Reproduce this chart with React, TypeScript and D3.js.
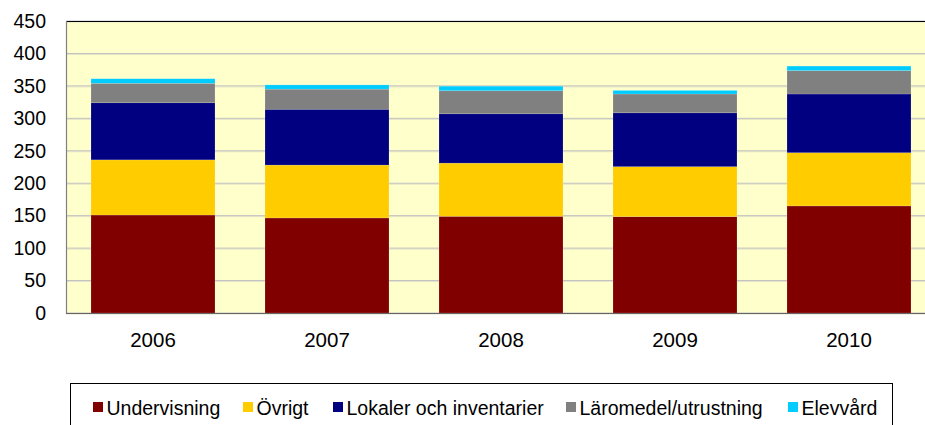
import React from "react";
import * as d3 from "d3";

const years = ["2006", "2007", "2008", "2009", "2010"];
const undervisning = [151, 146.5, 149, 148.5, 165];
const ovrigt = [85, 81.5, 82, 77, 82];
const lokaler = [88, 86, 76, 83, 90.5];
const laromedel = [30, 31, 35.5, 29, 36];
const elevvard = [7, 6.5, 7, 5.5, 7];
const seriesNames = ["Undervisning", "Övrigt", "Lokaler och inventarier", "Läromedel/utrustning", "Elevvård"];
const seriesColors = ["#800000", "#FFCC00", "#000080", "#808080", "#00CCFF"];
const yTicks = [0, 50, 100, 150, 200, 250, 300, 350, 400, 450];

const W = 925;
const H = 425;
const plot = { left: 66, top: 21, right: 936, bottom: 313 };
const legendX = [93, 243, 333, 566, 788];

export default function App() {
  const seriesValues = [undervisning, ovrigt, lokaler, laromedel, elevvard];
  const rows = years.map((y, i) => {
    const r: any = { year: y };
    seriesNames.forEach((n, k) => (r[n] = seriesValues[k][i]));
    return r;
  });
  const stack = d3.stack<any>().keys(seriesNames)(rows);
  const x = d3
    .scaleBand<string>()
    .domain(years)
    .range([plot.left, plot.right])
    .paddingInner(0.2874)
    .paddingOuter(0.1437);
  const y = d3.scaleLinear().domain([0, 450]).range([plot.bottom, plot.top]);
  const font = "Arial, 'Liberation Sans', sans-serif";

  return (
    <svg
      width={W}
      height={H}
      style={{ position: "absolute", left: 0, top: 0, display: "block", background: "#fff" }}
    >
      <rect x={plot.left} y={plot.top} width={plot.right - plot.left} height={plot.bottom - plot.top} fill="#FFFFCC" />
      {yTicks.map((t) => (
        <g key={t}>
          <line x1={plot.left} x2={plot.right} y1={y(t) + 1} y2={y(t) + 1} stroke="#e4e4c8" strokeWidth={1} />
          <line x1={plot.left} x2={plot.right} y1={y(t)} y2={y(t)} stroke="#c0c0c0" strokeWidth={1} />
          <text x={46} y={y(t)} dy="0.35em" textAnchor="end" fontFamily={font} fontSize={19.5} fill="#000">
            {t}
          </text>
        </g>
      ))}
      {stack.map((s, k) => (
        <g key={s.key} fill={seriesColors[k]}>
          {s.map((d, i) => (
            <rect
              key={i}
              x={x(years[i])!}
              y={y(d[1])}
              width={x.bandwidth()}
              height={y(d[0]) - y(d[1])}
              stroke="rgba(255,255,255,0.25)"
              strokeWidth={0.6}
            />
          ))}
        </g>
      ))}
      <line x1={plot.left} x2={plot.right} y1={plot.top + 0.5} y2={plot.top + 0.5} stroke="#000" strokeWidth={1.2} />
      <line x1={plot.left + 0.5} x2={plot.left + 0.5} y1={plot.top} y2={plot.bottom} stroke="#808080" strokeWidth={1.2} />
      <line x1={plot.left} x2={plot.right} y1={plot.bottom + 0.5} y2={plot.bottom + 0.5} stroke="#666" strokeWidth={1.2} />
      {years.map((yr) => (
        <text
          key={yr}
          x={x(yr)! + x.bandwidth() / 2}
          y={346.5}
          textAnchor="middle"
          fontFamily={font}
          fontSize={20.5}
          fill="#000"
        >
          {yr}
        </text>
      ))}
      <rect x={70.5} y={383.5} width={822} height={60} fill="#fff" stroke="#000" strokeWidth={1} />
      {seriesNames.map((n, k) => (
        <g key={n}>
          <rect x={legendX[k]} y={402} width={10} height={10} fill={seriesColors[k]} />
          <text x={legendX[k] + 13.5} y={415} fontFamily={font} fontSize={19.5} fill="#000">
            {n}
          </text>
        </g>
      ))}
    </svg>
  );
}
